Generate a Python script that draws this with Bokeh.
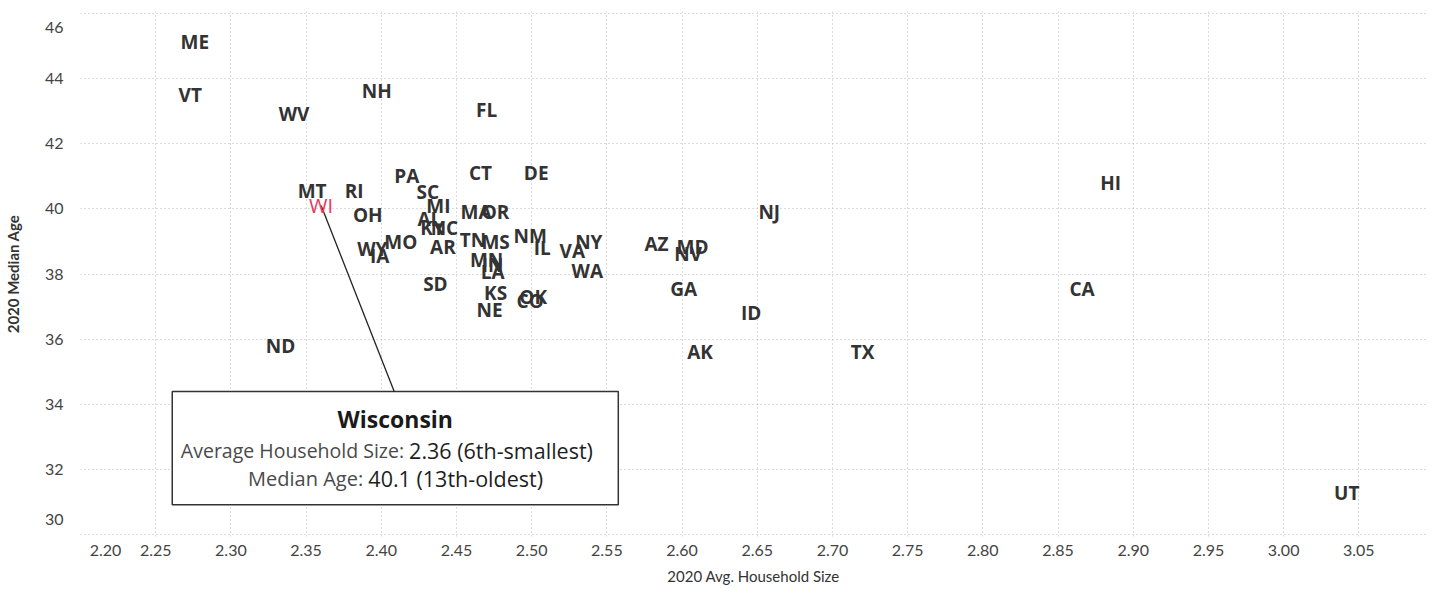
from bokeh.plotting import figure
from bokeh.models import (ColumnDataSource, FixedTicker, NumeralTickFormatter,
                          BoxAnnotation, Label, Range1d)
from bokeh.core.properties import value
from bokeh.embed import file_html
from bokeh.resources import INLINE

# ---- data ----
states = ["ME", "VT", "WV", "NH", "FL", "PA", "CT", "DE", "HI", "MT", "RI", "SC",
          "MI", "OH", "MA", "OR", "NJ", "AL", "KY", "NC", "MO", "TN", "MS", "NM",
          "NY", "AZ", "MD", "NV", "IL", "VA", "WY", "IA", "AR", "MN", "IN", "LA",
          "WA", "SD", "KS", "OK", "CO", "NE", "GA", "CA", "ID", "ND", "AK", "TX", "UT"]
household_size = [2.276, 2.273, 2.342, 2.397, 2.470, 2.417, 2.466, 2.503, 2.885, 2.354, 2.382, 2.431,
                  2.438, 2.391, 2.463, 2.476, 2.658, 2.432, 2.434, 2.442, 2.413, 2.461, 2.476, 2.499,
                  2.538, 2.583, 2.607, 2.604, 2.507, 2.527, 2.394, 2.399, 2.441, 2.470, 2.474, 2.474,
                  2.537, 2.436, 2.476, 2.501, 2.499, 2.472, 2.601, 2.866, 2.646, 2.333, 2.612, 2.720, 3.042]
median_age = [45.11, 43.48, 42.92, 43.60, 43.02, 41.02, 41.11, 41.11, 40.80, 40.55, 40.55, 40.52,
              40.09, 39.82, 39.91, 39.91, 39.91, 39.69, 39.42, 39.42, 38.98, 39.05, 38.98, 39.17,
              38.98, 38.92, 38.83, 38.62, 38.80, 38.71, 38.77, 38.55, 38.83, 38.43, 38.28, 38.06,
              38.09, 37.69, 37.42, 37.29, 37.17, 36.89, 37.54, 37.54, 36.80, 35.78, 35.60, 35.60, 31.29]

highlight_state = ["WI"]
highlight_size = [2.36]
highlight_age = [40.1]

x_grid_ticks = [2.20, 2.25, 2.30, 2.35, 2.40, 2.45, 2.50, 2.55, 2.60, 2.65, 2.70, 2.75,
                2.80, 2.85, 2.90, 2.95, 3.00, 3.05]
y_grid_ticks = [30, 32, 34, 36, 38, 40, 42, 44, 46]
# label positions: the end labels are pulled inward, as in the original
x_label_ticks = [2.2166] + x_grid_ticks[1:]
y_label_ticks = [30.46, 32, 34, 36, 38, 40, 42, 44, 45.57]
x_label_overrides = {2.2166: "2.20"}
y_label_overrides = {30.46: "30", 45.57: "46"}

x_title = "2020 Avg. Household Size"
y_title = "2020 Median Age"
note_title = "Wisconsin"
note_l1a, note_l1b = "Average Household Size: ", "2.36 (6th-smallest)"
note_l2a, note_l2b = "Median Age: ", "40.1 (13th-oldest)"

TICK_FONT = "Lato"
MARK_FONT = "Open Sans"

p = figure(width=1426, height=587, output_backend="svg", toolbar_location=None,
           x_range=Range1d(2.20, 3.095), y_range=Range1d(29.95, 46.05),
           min_border_left=70, min_border_right=0, min_border_top=11, min_border_bottom=0,
           background_fill_color="white", border_fill_color="white")
p.outline_line_color = None

# axes
p.xaxis.ticker = FixedTicker(ticks=x_label_ticks)
p.yaxis.ticker = FixedTicker(ticks=y_label_ticks)
p.xaxis.formatter = NumeralTickFormatter(format="0.00")
p.xaxis.major_label_overrides = x_label_overrides
p.yaxis.major_label_overrides = y_label_overrides
for ax in (p.xaxis, p.yaxis):
    ax.axis_line_color = None
    ax.major_tick_line_color = None
    ax.minor_tick_line_color = None
    ax.major_label_text_font = TICK_FONT
    ax.major_label_text_font_size = "16px"
    ax.major_label_text_color = "#444444"
    ax.axis_label_text_font = TICK_FONT
    ax.axis_label_text_font_size = "15px"
    ax.axis_label_text_color = "#333333"
p.xaxis.axis_label = x_title
p.yaxis.axis_label = y_title
p.xaxis.axis_label_text_font_style = "normal"
p.yaxis.axis_label_text_font_style = "bold"
p.xaxis.major_label_standoff = 2
p.yaxis.major_label_standoff = 11
p.xaxis.axis_label_standoff = 8
p.yaxis.axis_label_standoff = 20

# grid (at the real tick values)
p.xgrid.ticker = FixedTicker(ticks=x_grid_ticks)
p.ygrid.ticker = FixedTicker(ticks=y_grid_ticks)
for g in (p.xgrid, p.ygrid):
    g.grid_line_color = "#b8b8b8"
    g.grid_line_dash = "1 3"
    g.grid_line_width = 1

# note box (under the glyphs, over the grid)
p.add_layout(BoxAnnotation(left=2.261, right=2.5576, top=34.4, bottom=30.92,
                           fill_color="white", fill_alpha=1.0,
                           line_color="#333333", line_alpha=1.0, line_width=1.5,
                           level="underlay"))

# annotation leader line (from WI to the note box)
p.segment(x0=highlight_size, y0=highlight_age, x1=[2.4086], y1=[34.4],
          line_color="#222222", line_width=1.3)

src = ColumnDataSource(dict(x=household_size, y=median_age, s=states))
p.text(x="x", y="y", text="s", source=src, text_align="center", text_baseline="middle",
       text_font=value(MARK_FONT), text_font_size="19px", text_font_style="bold",
       text_color="#333333")

hsrc = ColumnDataSource(dict(x=highlight_size, y=highlight_age, s=highlight_state))
p.text(x="x", y="y", text="s", source=hsrc, text_align="center", text_baseline="middle",
       text_font=value(MARK_FONT), text_font_size="20px", text_font_style="normal",
       text_color="#e8375c")

cx = 2.4093
p.add_layout(Label(x=cx, y=33.54, text=note_title, text_align="center",
                   text_baseline="middle", text_font=MARK_FONT, text_font_size="23px",
                   text_font_style="bold", text_color="#1a1a1a"))
p.add_layout(Label(x=2.4185, y=32.58, text=note_l1a, text_align="right",
                   text_baseline="middle", text_font=MARK_FONT, text_font_size="19.5px",
                   text_color="#4a4a4a"))
p.add_layout(Label(x=2.4185, y=32.58, text=note_l1b, text_align="left",
                   text_baseline="middle", text_font=MARK_FONT, text_font_size="21.5px",
                   text_color="#1e1e1e"))
p.add_layout(Label(x=2.3914, y=31.72, text=note_l2a, text_align="right",
                   text_baseline="middle", text_font=MARK_FONT, text_font_size="20px",
                   text_color="#4a4a4a"))
p.add_layout(Label(x=2.3914, y=31.72, text=note_l2b, text_align="left",
                   text_baseline="middle", text_font=MARK_FONT, text_font_size="21.5px",
                   text_color="#1e1e1e"))

open("out.html", "w").write(file_html(p, INLINE))
